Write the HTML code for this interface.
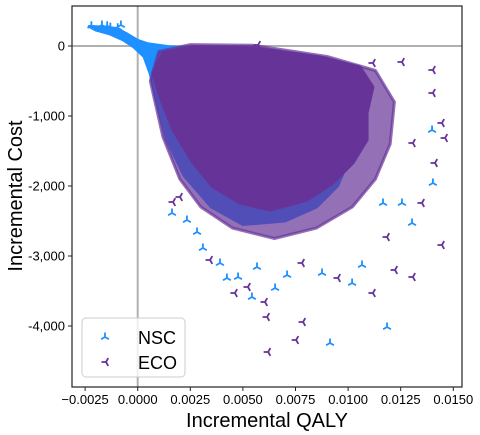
<!DOCTYPE html>
<html><head><meta charset="utf-8"><style>
body{margin:0;background:#fff;}
svg{display:block;font-family:"Liberation Sans",Arial,sans-serif;}
</style></head><body>
<svg id="chart" width="480" height="435"></svg>
<script>
// ---- data (QALY in thousandths, cost) ----
const xTicks=[-2.5,0,2.5,5,7.5,10,12.5,15];
const xTickLabels=["−0.0025","0.0000","0.0025","0.0050","0.0075","0.0100","0.0125","0.0150"];
const yTicks=[0,-1000,-2000,-3000,-4000];
const yTickLabels=["0","-1,000","-2,000","-3,000","-4,000"];
// dense-cloud outlines
const nscCloudQ=[-2.3,-1.6,-1.0,-0.5,0.0,0.5,1.5,3,6,8.5,10,10.2,9.5,8.5,7,5,3.5,2.2,1.4,0.9,0.6,0.3,-0.2,-0.7,-1.3,-2.0];
const nscCloudC=[280,270,250,170,80,30,-10,-40,-100,-300,-900,-1500,-2000,-2300,-2500,-2550,-2300,-1850,-1350,-800,-400,-150,-10,90,170,230];
const ecoCloudQ=[1.2,2.63,5.48,8.66,10.56,11.18,10.9,10.9,10.23,9.28,8.05,6.29,4.86,3.58,2.63,1.68,1.06,0.73];
const ecoCloudC=[-100,-14,-29,-157,-300,-586,-957,-1343,-1671,-1957,-2200,-2343,-2243,-2014,-1671,-1200,-729,-386];
const ecoFringeQ=[1.0,2.5,5.5,9.0,11.3,12.2,12.0,11.3,10.2,8.5,6.5,4.5,3.0,2.0,1.2,0.6];
const ecoFringeC=[-80,20,10,-150,-350,-800,-1400,-1900,-2300,-2600,-2750,-2600,-2300,-1900,-1300,-500];
// scattered outliers
const nscQ=[1.63,2.34,2.82,3.10,3.91,4.24,4.77,5.43,5.67,6.53,7.10,8.76,10.19,10.66,11.66,12.56,13.04,13.99,14.03,11.85,9.14,-2.2,-1.7,-1.45,-1.3,-0.8,-0.95];
const nscC=[-2386,-2486,-2657,-2886,-3100,-3314,-3300,-3586,-3157,-3457,-3271,-3243,-3386,-3129,-2243,-2243,-2529,-1200,-1957,-4014,-4243,290,300,290,270,300,260];
const ecoQ=[1.68,2.01,3.44,4.62,5.24,6.05,6.15,7.86,7.81,9.52,11.18,13.08,14.46,13.51,12.23,14.13,14.61,14.46,14.03,14.03,12.56,11.18,5.72,13.08,11.85,6.2,7.53];
const ecoC=[-2229,-2157,-3057,-3529,-3443,-3657,-3871,-3943,-3100,-3314,-3529,-3300,-2843,-2243,-3200,-1671,-1314,-1100,-671,-343,-229,-243,14,-1386,-2729,-4371,-4200];

const L=72,R=462,T=6,B=387;
const X=q=>137.7+q*21.04;
const Y=c=>46-c*0.07;
const NS="http://www.w3.org/2000/svg";
const svg=document.getElementById('chart');
function el(tag,attrs,parent){const e=document.createElementNS(NS,tag);for(const k in attrs)e.setAttribute(k,attrs[k]);(parent||svg).appendChild(e);return e;}
const BLUE="#1e90ff",PURP="#663399";

const defs=el('defs',{});
const cp=el('clipPath',{id:'clip'},defs);el('rect',{x:L,y:T,width:R-L,height:B-T},cp);
const plot=el('g',{'clip-path':'url(#clip)'});



let v=el('line',{x1:X(0),x2:X(0),y1:T,y2:B,stroke:'#b0b0b0','stroke-width':2},plot);

let h=el('line',{x1:L,x2:R,y1:Y(0),y2:Y(0),stroke:'#b0b0b0','stroke-width':2},plot);


function poly(qs,cs,fill,op,name){
  const p=el('polygon',{points:qs.map((q,i)=>X(q)+','+Y(cs[i])).join(' '),fill:fill,'fill-opacity':op,stroke:fill,'stroke-opacity':op,'stroke-width':3,'stroke-linejoin':'round'},plot);
  
}
poly(nscCloudQ,nscCloudC,BLUE,1,'nsc-cloud');
poly(ecoFringeQ,ecoFringeC,PURP,0.7,'eco-fringe');
poly(ecoCloudQ,ecoCloudC,PURP,1,'eco-cloud');

function triUp(x,y,col,g){const s=4.5;return el('path',{d:`M${x},${y}L${x},${y-s}M${x},${y}L${x-s*0.87},${y+s*0.5}M${x},${y}L${x+s*0.87},${y+s*0.5}`,stroke:col,'stroke-width':1.8,fill:'none'},g);}
function triLeft(x,y,col,g){const s=4.5;return el('path',{d:`M${x},${y}L${x-s},${y}M${x},${y}L${x+s*0.5},${y-s*0.87}M${x},${y}L${x+s*0.5},${y+s*0.87}`,stroke:col,'stroke-width':1.8,fill:'none'},g);}
nscQ.forEach((q,i)=>{const m=triUp(X(q),Y(nscC[i]),BLUE,plot);

});
ecoQ.forEach((q,i)=>{const m=triLeft(X(q),Y(ecoC[i]),PURP,plot);

});

let fr=el('rect',{x:L,y:T,width:R-L,height:B-T,fill:'none',stroke:'#222','stroke-width':1.2});


xTicks.forEach((t,i)=>{el('line',{x1:X(t),x2:X(t),y1:B,y2:B+4,stroke:'#222'});
 const tx=el('text',{x:X(t),y:B+17,'font-size':13,'text-anchor':'middle',fill:'#000'});tx.textContent=xTickLabels[i];
 });
yTicks.forEach((t,i)=>{el('line',{x1:L-4,x2:L,y1:Y(t),y2:Y(t),stroke:'#222'});
 const tx=el('text',{x:L-7,y:Y(t)+4.5,'font-size':13,'text-anchor':'end',fill:'#000'});tx.textContent=yTickLabels[i];
 });

let xt=el('text',{x:267,y:427,'font-size':20,'text-anchor':'middle'});xt.textContent='Incremental QALY';

let yt=el('text',{x:0,y:0,'font-size':20,'text-anchor':'middle',transform:'translate(22,196) rotate(-90)'});yt.textContent='Incremental Cost';


const lg=el('g',{});

el('rect',{x:82,y:318,width:103,height:59,rx:4,fill:'#fff','fill-opacity':0.8,stroke:'#ccc'},lg);
triUp(105,337,BLUE,lg);
triLeft(106,362,PURP,lg);
let t1=el('text',{x:138,y:344,'font-size':18},lg);t1.textContent='NSC';

let t2=el('text',{x:138,y:369,'font-size':18},lg);t2.textContent='ECO';

</script>
</body></html>
